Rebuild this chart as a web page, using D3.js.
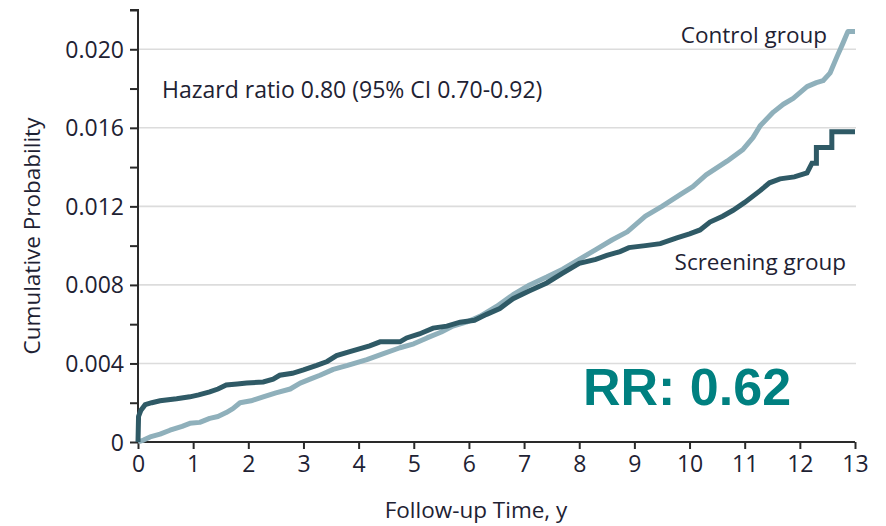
<!DOCTYPE html>
<html>
<head>
<meta charset="utf-8">
<script src="https://cdn.jsdelivr.net/npm/d3@7"></script>
<style>
  html, body { margin: 0; padding: 0; background: #fff; }
  svg { display: block; }
  text { font-family: "Open Sans", "Noto Sans", sans-serif; fill: #1e2233; }
</style>
</head>
<body>
<svg id="chart" width="886" height="526"></svg>
<script>
// ---- Data ----
const xTicks = [0,1,2,3,4,5,6,7,8,9,10,11,12,13];
const yMajorTicks = [0, 0.004, 0.008, 0.012, 0.016, 0.020];
const yMinorTicks = [0.002, 0.006, 0.010, 0.014, 0.018, 0.022];
const yTickLabels = ["0", "0.004", "0.008", "0.012", "0.016", "0.020"];

const screeningTime = [0,0.01,0.05,0.13,0.25,0.4,0.7,0.94,1.1,1.3,1.45,1.6,1.8,1.97,2.27,2.45,2.57,2.8,3.0,3.24,3.43,3.6,3.84,4.2,4.39,4.75,4.87,5.1,5.35,5.6,5.84,6.1,6.32,6.56,6.8,7.1,7.41,7.7,8.0,8.3,8.5,8.74,8.9,9.2,9.47,9.77,10.0,10.19,10.37,10.6,10.79,11.0,11.28,11.45,11.64,11.9,12.13,12.22,12.30,12.30,12.58,12.58,13.0];
const screeningProb = [0,0.0013,0.0016,0.0019,0.0020,0.0021,0.0022,0.0023,0.0024,0.00255,0.0027,0.0029,0.00295,0.0030,0.00306,0.0032,0.0034,0.0035,0.00367,0.0039,0.0041,0.0044,0.0046,0.0049,0.0051,0.0051,0.0053,0.0055,0.0058,0.0059,0.0061,0.0062,0.0065,0.0068,0.0073,0.0077,0.0081,0.0086,0.0091,0.0093,0.0095,0.0097,0.0099,0.0100,0.0101,0.0104,0.0106,0.0108,0.0112,0.0115,0.0118,0.0122,0.0128,0.0132,0.0134,0.0135,0.0137,0.0142,0.0142,0.0150,0.0150,0.0158,0.0158];

const controlTime = [0,0.1,0.22,0.4,0.58,0.8,0.94,1.12,1.3,1.45,1.6,1.72,1.85,2.05,2.27,2.5,2.76,2.94,3.12,3.3,3.54,3.8,4.15,4.45,4.75,5.0,5.24,5.5,5.71,5.95,6.2,6.5,6.8,7.1,7.41,7.7,8.0,8.3,8.6,8.87,9.2,9.5,9.83,10.06,10.3,10.68,10.97,11.15,11.28,11.52,11.7,11.88,12.13,12.3,12.42,12.55,12.67,12.78,12.87,13.0];
const controlProb = [0,0.0001,0.00026,0.0004,0.0006,0.0008,0.00095,0.0010,0.0012,0.0013,0.0015,0.0017,0.0020,0.0021,0.0023,0.0025,0.0027,0.0030,0.0032,0.0034,0.0037,0.0039,0.0042,0.0045,0.0048,0.0050,0.0053,0.0056,0.0059,0.0061,0.0064,0.0069,0.0075,0.0080,0.0084,0.0088,0.0093,0.0098,0.0103,0.0107,0.0115,0.0120,0.0126,0.0130,0.0136,0.0143,0.0149,0.0155,0.0161,0.0168,0.0172,0.0175,0.0181,0.0183,0.0184,0.0188,0.0196,0.0203,0.0209,0.0209];

const seriesNames = ["Control group", "Screening group"];
const hazardText = "Hazard ratio 0.80 (95% CI 0.70-0.92)";
const rrText = "RR: 0.62";

// ---- Layout ----
const svg = d3.select("#chart");
const mLeft = 138, mRight = 855, mTop = 10, mBottom = 442;
const fontMain = "'Open Sans', 'Noto Sans', sans-serif";

const x = d3.scaleLinear().domain([0, 13]).range([mLeft, mRight]);
const y = d3.scaleLinear().domain([0, 0.022]).range([mBottom, mTop]);

const axisColor = "#2a2a2a";

// gridlines
svg.append("g").selectAll("line")
  .data(yMajorTicks.filter(d => d > 0))
  .join("line")
  .attr("x1", mLeft).attr("x2", mRight + 1)
  .attr("y1", d => y(d)).attr("y2", d => y(d))
  .attr("stroke", "#dcdcdc").attr("stroke-width", 1.6);

// y axis
const yAxis = d3.axisLeft(y)
  .tickValues(yMajorTicks.concat(yMinorTicks).sort((a,b)=>a-b))
  .tickSize(8)
  .tickPadding(6)
  .tickFormat(d => {
    const i = yMajorTicks.findIndex(v => Math.abs(v - d) < 1e-9);
    return i >= 0 ? yTickLabels[i] : "";
  });
const gy = svg.append("g").attr("transform", `translate(${mLeft},0)`).call(yAxis);
gy.select(".domain").attr("stroke", axisColor).attr("stroke-width", 2).attr("d", `M-8,${mTop}H0V${mBottom}`);
gy.selectAll(".tick line").attr("stroke", axisColor).attr("stroke-width", 2);
gy.selectAll(".tick text").style("font-size", "23px").style("font-family", fontMain).attr("fill", "#1e2233").attr("dy", "0.35em");

// x axis
const xAxis = d3.axisBottom(x).tickValues(xTicks).tickSize(7).tickPadding(7).tickFormat(d3.format("d"));
const gx = svg.append("g").attr("transform", `translate(0,${mBottom})`).call(xAxis);
gx.select(".domain").attr("stroke", axisColor).attr("stroke-width", 2).attr("d", `M${mLeft},0H${mRight}`);
gx.selectAll(".tick line").attr("stroke", axisColor).attr("stroke-width", 2);
gx.selectAll(".tick text").style("font-size", "23px").style("font-family", fontMain).attr("fill", "#1e2233");

// curves
const line = d3.line().x(d => x(d[0])).y(d => y(d[1])).curve(d3.curveLinear);
const control = controlTime.map((t, i) => [t, controlProb[i]]);
const screening = screeningTime.map((t, i) => [t, screeningProb[i]]);

svg.append("path").datum(control).attr("d", line)
  .attr("fill", "none").attr("stroke", "#8fb0bb").attr("stroke-width", 5).attr("stroke-linejoin", "round");
svg.append("path").datum(screening).attr("d", line)
  .attr("fill", "none").attr("stroke", "#2f5a66").attr("stroke-width", 5).attr("stroke-linejoin", "miter");

// labels
svg.append("text").attr("x", 827).attr("y", 43).attr("text-anchor", "end")
  .style("font-size", "22.5px").text(seriesNames[0]);
svg.append("text").attr("x", 846).attr("y", 270).attr("text-anchor", "end")
  .style("font-size", "22.5px").text(seriesNames[1]);
svg.append("text").attr("x", 162).attr("y", 98)
  .style("font-size", "23px").text(hazardText);

svg.append("text").attr("x", 583).attr("y", 405)
  .style("font-family", "Arial, 'Liberation Sans', sans-serif")
  .style("font-weight", "bold").style("font-size", "52px")
  .style("fill", "#008080").text(rrText);

// axis titles
svg.append("text").attr("x", 476).attr("y", 518).attr("text-anchor", "middle")
  .style("font-size", "22.5px").text("Follow-up Time, y");
svg.append("text").attr("transform", "translate(40,236) rotate(-90)").attr("text-anchor", "middle")
  .style("font-size", "22.5px").text("Cumulative Probability");
</script>
</body>
</html>
